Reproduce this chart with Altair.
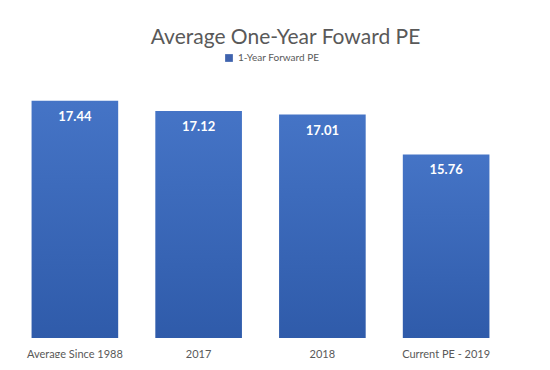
import altair as alt
import pandas as pd

categories = ["Average Since 1988", "2017", "2018", "Current PE - 2019"]
values = [17.44, 17.12, 17.01, 15.76]
series = "1-Year Forward PE"

df = pd.DataFrame({"category": categories, "value": values, "series": [series] * 4})
df["label"] = df["value"].map(lambda v: f"{v:.2f}")

FONT = "Lato"

x = alt.X("category:N", sort=categories, title=None,
          scale=alt.Scale(paddingInner=0.3, paddingOuter=0.15),
          axis=alt.Axis(labelAngle=0, ticks=False, domain=False, labelFont=FONT,
                        labelFontSize=11, labelColor="#595959", labelPadding=10))
yscale = alt.Scale(domain=[10, 18], zero=False, nice=False)

grad = alt.Gradient(gradient="linear", x1=0, x2=0, y1=0, y2=1,
                    stops=[alt.GradientStop(color="#4574C6", offset=0),
                           alt.GradientStop(color="#2F5BAA", offset=1)])

bars = alt.Chart(df).mark_bar(fill=grad).encode(
    x=x,
    y=alt.Y("value:Q", scale=yscale, axis=None),
    y2=alt.datum(10),
)

legend_layer = alt.Chart(df).mark_point(opacity=0, filled=True).encode(
    x=alt.X("category:N", sort=categories),
    y=alt.Y("value:Q", scale=yscale),
    fill=alt.Fill("series:N", scale=alt.Scale(range=["#3F63AE"]),
                  legend=alt.Legend(title=None, orient="none", legendX=211, legendY=-30,
                                    symbolType="square", symbolSize=60, symbolOpacity=1,
                                    labelFont=FONT, labelFontSize=10,
                                    labelColor="#595959", symbolStrokeWidth=0)),
)

labels = alt.Chart(df).mark_text(color="white", fontWeight="bold", font=FONT,
                                 fontSize=13, dy=16, baseline="middle").encode(
    x=alt.X("category:N", sort=categories),
    y=alt.Y("value:Q", scale=yscale),
    text="label:N",
)

chart = (bars + legend_layer + labels).properties(
    width=495, height=255,
    autosize=alt.AutoSizeParams(type="none"),
    padding={"left": 5, "top": 75, "right": 30, "bottom": 20},
    background="white",
    title=alt.TitleParams("Average One-Year Foward PE", anchor="middle", font=FONT,
                          fontSize=21, fontWeight="normal", color="#595959",
                          offset=5, dx=25),
).configure_view(stroke=None)

chart.save("out.html", embed_options={"renderer": "svg", "actions": False})
